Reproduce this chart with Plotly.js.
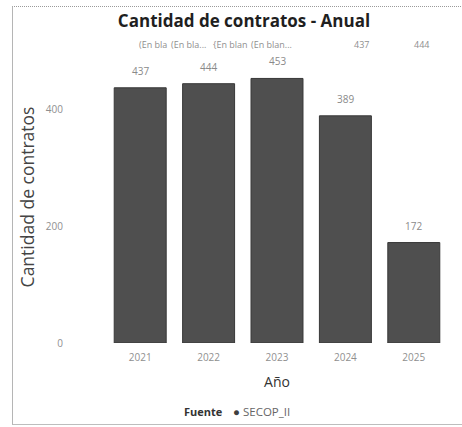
<!DOCTYPE html>
<html>
<head>
<meta charset="utf-8">
<script src="https://cdn.plot.ly/plotly-3.0.1.min.js"></script>
<style>
  html, body { margin: 0; padding: 0; background: #ffffff; }
  #wrap { position: relative; width: 462px; height: 427px; overflow: hidden; }
  #chart { position: absolute; left: 0; top: 0; width: 462px; height: 427px; }
  #frame { position: absolute; left: 12px; top: 6px; width: 460px; height: 417px;
           border-left: 1px solid #b5b5b5; border-top: 1px dotted #9a9a9a; border-bottom: 1px solid #bdbdbd;
           pointer-events: none; }
</style>
</head>
<body>
<div id="wrap">
  <div id="chart"></div>
  <div id="frame"></div>
</div>
<script>
// ---- data ----
const years = ['2021', '2022', '2023', '2024', '2025'];
const contratos = [437, 444, 453, 389, 172];
const yTicks = [0, 200, 400];
const topRowLabels = ['(En bla', '(En bla...', '{En blan', '(En blan...', '437', '444'];
const seriesName = 'SECOP_II';
const legendTitle = 'Fuente';

// ---- styles ----
const FONT = 'Open Sans, Noto Sans, sans-serif';
const barColor = '#4f4f4f';

const L = 106, R = 14, T = 51, B = 84, W = 462, H = 427;
const px = v => (v - L) / (W - L - R);
const py = v => (H - B - v) / (H - T - B);

const bar = {
  type: 'bar',
  x: years,
  y: contratos,
  name: seriesName,
  marker: { color: barColor, line: { color: '#383838', width: 1 } },
  showlegend: false,
  hoverinfo: 'x+y'
};

// category index positions (a numeric-looking category string would be read as an index)
const valueLabels = years.map((yr, i) => ({
  x: i, y: contratos[i], xref: 'x', yref: 'y',
  text: String(contratos[i]), showarrow: false,
  yshift: 17, font: { family: FONT, size: 10, color: '#8a8a8a' }
}));

const topRowX = [153, 188, 230, 271, 361, 421];
const topRow = topRowLabels.map((t, i) => ({
  x: px(topRowX[i]), y: py(45), xref: 'paper', yref: 'paper',
  text: t, showarrow: false, xanchor: 'center', yanchor: 'middle',
  font: { family: FONT, size: 9, color: '#8f8f8f' }
}));

const legendAnn = [
  { x: px(225), y: py(411), xref: 'paper', yref: 'paper', xanchor: 'right', yanchor: 'middle',
    text: '<b>' + legendTitle + '</b>', showarrow: false,
    font: { family: FONT, size: 11, color: '#333' } },
  { x: px(231), y: py(411), xref: 'paper', yref: 'paper', xanchor: 'left', yanchor: 'middle',
    text: '<span style="color:#3f3f3f">●</span> ' + seriesName, showarrow: false,
    font: { family: FONT, size: 11.5, color: '#666' } }
];

const layout = {
  width: W, height: H,
  margin: { l: L, r: R, t: T, b: B, pad: 0 },
  paper_bgcolor: '#ffffff',
  plot_bgcolor: '#ffffff',
  font: { family: FONT, color: '#555' },
  bargap: 0.24,
  showlegend: false,
  title: {
    text: '<b>Cantidad de contratos - Anual</b>',
    font: { family: FONT, size: 17, color: '#1f1f1f' },
    x: 244 / W, xanchor: 'center', xref: 'container',
    y: 1 - 21 / H, yanchor: 'middle', yref: 'container'
  },
  xaxis: {
    type: 'category',
    categoryorder: 'array', categoryarray: years,
    range: [-0.5, years.length - 0.5],
    showgrid: false, zeroline: false, showline: false, ticks: '',
    tickfont: { family: FONT, size: 10, color: '#8f8f8f' },
    ticklabelstandoff: 7,
    title: { text: 'Año', font: { family: FONT, size: 14, color: '#333' }, standoff: 14 }
  },
  yaxis: {
    range: [0, 500],
    tickvals: yTicks,
    showgrid: false, zeroline: false, showline: false, ticks: '',
    tickfont: { family: FONT, size: 10, color: '#8f8f8f' },
    ticklabelstandoff: 42,
    title: { text: 'Cantidad de contratos', font: { family: FONT, size: 17.5, color: '#444' }, standoff: 6 }
  },
  annotations: valueLabels.concat(topRow, legendAnn)
};

Plotly.newPlot('chart', [bar], layout, { displayModeBar: false, staticPlot: true });
</script>
</body>
</html>
